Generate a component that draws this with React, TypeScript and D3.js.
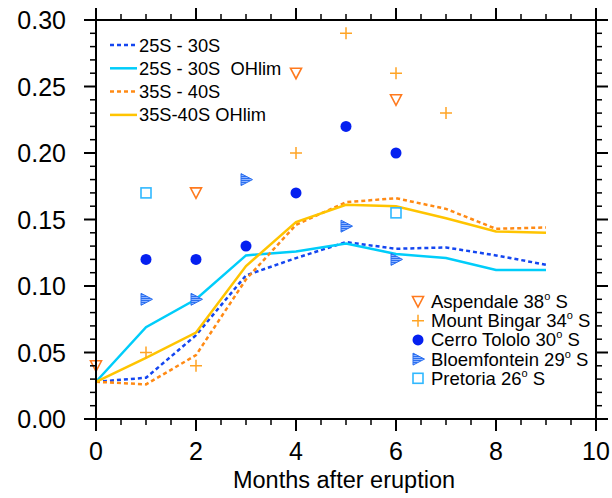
import * as d3 from "d3"

// months after eruption for the model curves
const months = [0, 1, 2, 3, 4, 5, 6, 7, 8, 9]

const s25to30 = [0.028, 0.031, 0.063, 0.108, 0.121, 0.133, 0.128, 0.129, 0.123, 0.116]
const s25to30OH = [0.028, 0.069, 0.090, 0.123, 0.126, 0.132, 0.124, 0.121, 0.112, 0.112]
const s35to40 = [0.028, 0.026, 0.048, 0.105, 0.146, 0.163, 0.166, 0.158, 0.143, 0.144]
const s35to40OH = [0.028, 0.046, 0.065, 0.115, 0.148, 0.161, 0.160, 0.151, 0.141, 0.140]

// station observations [month, value]
const aspendale: [number, number][] = [[0, 0.04], [2, 0.17], [4, 0.26], [6, 0.24]]
const mountBingar: [number, number][] = [[1, 0.05], [2, 0.04], [4, 0.20], [5, 0.29], [6, 0.26], [7, 0.23]]
const cerroTololo: [number, number][] = [[1, 0.12], [2, 0.12], [3, 0.13], [4, 0.17], [5, 0.22], [6, 0.20]]
const bloemfontein: [number, number][] = [[1, 0.09], [2, 0.09], [3, 0.18], [5, 0.145], [6, 0.12]]
const pretoria: [number, number][] = [[1, 0.17], [6, 0.155]]

const xTicks = [0, 2, 4, 6, 8, 10]
const yTicks = [0, 0.05, 0.1, 0.15, 0.2, 0.25, 0.3]

const lineSeries = [
    { name: "25S - 30S", values: s25to30, color: "#1446f0", dash: "4,3" },
    { name: "25S - 30S  OHlim", values: s25to30OH, color: "#00cdfa", dash: null },
    { name: "35S - 40S", values: s35to40, color: "#ff8a14", dash: "4,3" },
    { name: "35S-40S OHlim", values: s35to40OH, color: "#ffc400", dash: null },
]

const stations = [
    { name: "Aspendale 38", kind: "tri", data: aspendale, color: "#ff7a1e" },
    { name: "Mount Bingar 34", kind: "plus", data: mountBingar, color: "#ffa424" },
    { name: "Cerro Tololo 30", kind: "dot", data: cerroTololo, color: "#0520f0" },
    { name: "Bloemfontein 29", kind: "right", data: bloemfontein, color: "#2a6ff0" },
    { name: "Pretoria 26", kind: "square", data: pretoria, color: "#30b8ff" },
]

const W = 612
const H = 498
const L = 96, R = 596, T = 20, B = 419
const font = "'Liberation Sans', Arial, Helvetica, sans-serif"

function Marker({ kind, x, y, color }: { kind: string, x: number, y: number, color: string }) {
    if (kind === "tri") {
        return <path d={`M${x - 5.5},${y - 5} L${x + 5.5},${y - 5} L${x},${y + 5.5} Z`} fill="none" stroke={color} strokeWidth={1.6} />
    }
    if (kind === "plus") {
        return <path d={`M${x - 6},${y} H${x + 6} M${x},${y - 6} V${y + 6}`} stroke={color} strokeWidth={1.5} />
    }
    if (kind === "dot") {
        return <circle cx={x} cy={y} r={5.5} fill={color} />
    }
    if (kind === "right") {
        return <path d={`M${x - 5},${y - 6} L${x + 6.5},${y} L${x - 5},${y + 6} Z`} fill="url(#hatch)" stroke={color} strokeWidth={1} />
    }
    return <rect x={x - 5} y={y - 5} width={10} height={10} fill="none" stroke={color} strokeWidth={1.6} />
}

export default function App() {
    const x = d3.scaleLinear().domain([0, 10]).range([L, R])
    const y = d3.scaleLinear().domain([0, 0.3]).range([B, T])

    const line = d3.line<number>()
        .x((_, i) => x(months[i]))
        .y(d => y(d))

    const xMinor = d3.range(0, 10.01, 0.5).filter(v => Math.abs(v % 2) > 1e-6)
    const yMinor = d3.range(0, 0.3001, 0.01).filter(v => Math.abs(Math.round(v * 100) % 5) !== 0)

    const major = 12
    const minor = 6

    return (
        <svg width={W} height={H} style={{ position: "fixed", left: 0, top: 0, background: "#fff" }} fontFamily={font}>
            <defs>
                <pattern id="hatch" width="2" height="2" patternUnits="userSpaceOnUse">
                    <rect width="2" height="2" fill="#8fb4ff" />
                    <rect width="2" height="1" fill="#2a6ff0" />
                </pattern>
            </defs>
            <rect x={0} y={0} width={W} height={H} fill="#fff" />

            {lineSeries.map(s => (
                <path key={s.name} d={line(s.values) ?? ""} fill="none" stroke={s.color} strokeWidth={2.5}
                    strokeDasharray={s.dash ?? undefined} />
            ))}

            {stations.map(st => st.data.map(([m, v], i) => (
                <Marker key={st.name + i} kind={st.kind} x={x(m)} y={y(v)} color={st.color} />
            )))}

            {/* frame */}
            <rect x={L} y={T} width={R - L} height={B - T} fill="none" stroke="#000" strokeWidth={2} />

            {/* ticks */}
            <g stroke="#000" strokeWidth={2}>
                {xTicks.map(t => (
                    <g key={"xt" + t}>
                        <line x1={x(t)} x2={x(t)} y1={B} y2={B + major} />
                        <line x1={x(t)} x2={x(t)} y1={T} y2={T - major} />
                    </g>
                ))}
                {yTicks.map(t => (
                    <g key={"yt" + t}>
                        <line x1={L} x2={L - major} y1={y(t)} y2={y(t)} />
                        <line x1={R} x2={R + major} y1={y(t)} y2={y(t)} />
                    </g>
                ))}
            </g>
            <g stroke="#000" strokeWidth={1.5}>
                {xMinor.map(t => (
                    <g key={"xm" + t}>
                        <line x1={x(t)} x2={x(t)} y1={B} y2={B + minor} />
                        <line x1={x(t)} x2={x(t)} y1={T} y2={T - minor} />
                    </g>
                ))}
                {yMinor.map(t => (
                    <g key={"ym" + t}>
                        <line x1={L} x2={L - minor} y1={y(t)} y2={y(t)} />
                        <line x1={R} x2={R + minor} y1={y(t)} y2={y(t)} />
                    </g>
                ))}
            </g>

            {/* tick labels */}
            <g fontSize={25} fill="#000">
                {xTicks.map(t => (
                    <text key={"xl" + t} x={x(t)} y={B + 41} textAnchor="middle">{t}</text>
                ))}
                {yTicks.map(t => (
                    <text key={"yl" + t} x={66} y={y(t) + 9} textAnchor="end">{d3.format(".2f")(t)}</text>
                ))}
            </g>
            <text x={344} y={488} textAnchor="middle" fontSize={23.5}>Months after eruption</text>

            {/* line legend */}
            <g fontSize={18.3}>
                {lineSeries.map((s, i) => {
                    const ly = 45 + i * 23.3
                    return (
                        <g key={"ll" + s.name}>
                            <line x1={110} x2={137} y1={ly} y2={ly} stroke={s.color} strokeWidth={2.5}
                                strokeDasharray={s.dash ?? undefined} />
                            <text x={139} y={ly + 6.5} style={{ whiteSpace: "pre" }}>{s.name}</text>
                        </g>
                    )
                })}
            </g>

            {/* station legend */}
            <g fontSize={18.5}>
                {stations.map((st, i) => {
                    const ly = 301.5 + i * 19.2
                    return (
                        <g key={"sl" + st.name}>
                            <Marker kind={st.kind} x={418} y={ly} color={st.color} />
                            <text x={431} y={ly + 6.5}>
                                {st.name}
                                <tspan fontSize={11} dy={-8}>o</tspan>
                                <tspan dy={8}> S</tspan>
                            </text>
                        </g>
                    )
                })}
            </g>
        </svg>
    )
}
